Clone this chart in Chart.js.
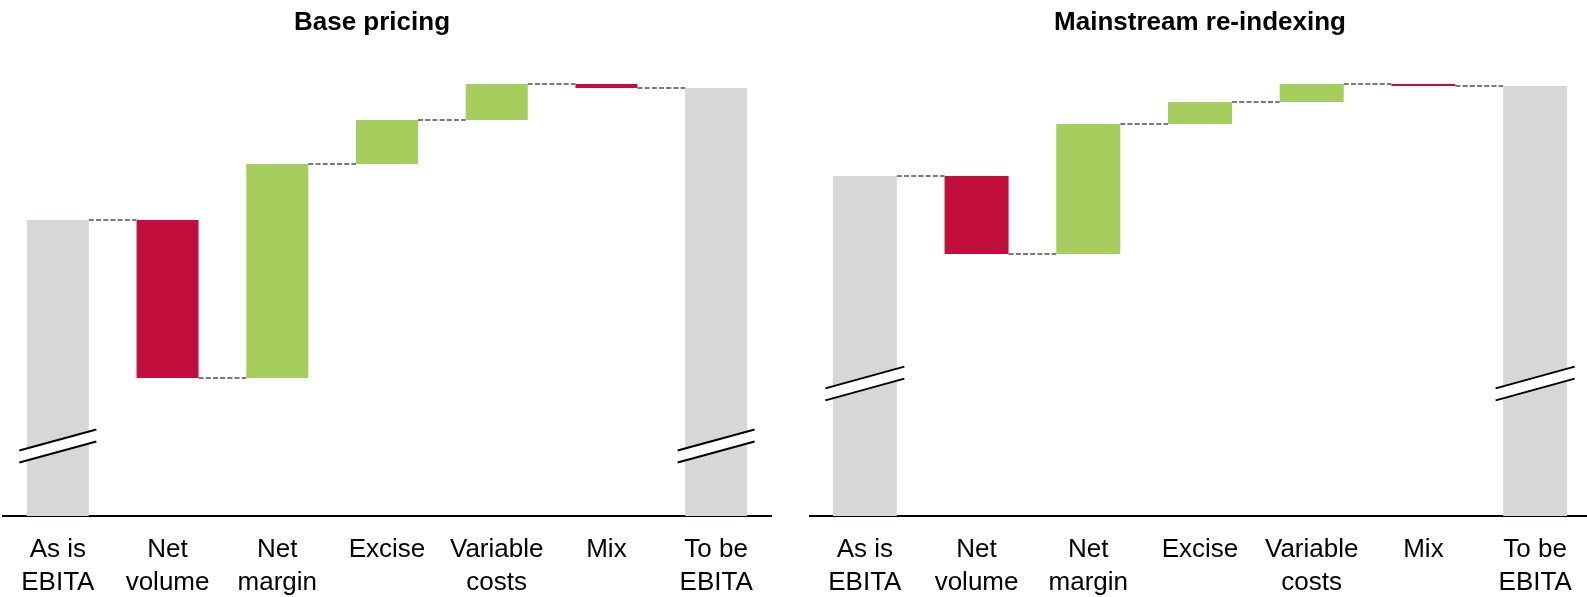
<!DOCTYPE html>
<html>
<head>
<meta charset="utf-8">
<script src="https://cdn.jsdelivr.net/npm/chart.js@4.4.1/dist/chart.umd.min.js"></script>
<style>
  html, body { margin: 0; padding: 0; background: #fff; overflow: hidden; width: 1587px; height: 597px; }
  canvas { position: absolute; top: 0; }
  #basePricing { left: 0; }
  #reindexing { left: 809px; }
</style>
</head>
<body>
<canvas id="basePricing" width="800" height="617"></canvas>
<canvas id="reindexing" width="782" height="617"></canvas>
<script>
// Waterfall categories (multi-line tick labels)
const categories = [
  ['As is', 'EBITA'],
  ['Net', 'volume'],
  ['Net', 'margin'],
  ['Excise'],
  ['Variable', 'costs'],
  ['Mix'],
  ['To be', 'EBITA']
];

// 'total' bars start at zero, 'delta' bars float on the running total
const stepKinds = ['total', 'delta', 'delta', 'delta', 'delta', 'delta', 'total'];

// EBITA bridge values, base pricing scenario
const basePricingSteps = [59.2, -31.6, 42.8, 8.8, 7.2, -0.8, 85.6];
// EBITA bridge values, mainstream re-indexing scenario
const reindexingSteps = [68.0, -15.6, 26.0, 4.4, 3.6, -0.4, 86.0];

// Level (in value units) where the broken-axis mark crosses the total bars
const basePricingBreak = 14.0;
const reindexingBreak = 26.5;

const FONT = "'Liberation Sans', Arial, Helvetica, sans-serif";
const COLORS = { total: '#d6d7d9', up: '#a5ce5e', down: '#c20e3d' };

function waterfall(steps, kinds) {
  let run = 0;
  const ranges = [], colors = [], levels = [];
  steps.forEach((v, i) => {
    if (kinds[i] === 'total') {
      ranges.push([0, v]);
      run = v;
      colors.push(COLORS.total);
    } else {
      ranges.push([run, run + v]);
      run += v;
      colors.push(v >= 0 ? COLORS.up : COLORS.down);
    }
    levels.push(run);
  });
  return { ranges, colors, levels };
}

// Moves the chart title horizontally after layout
const titleShift = {
  id: 'titleShift',
  afterLayout(chart, args, opts) {
    const t = chart.titleBlock;
    if (t && opts.dx) { t.left += opts.dx; t.right += opts.dx; }
  }
};

// Dashed lines joining the running total from one bar to the next
const connectors = {
  id: 'connectors',
  afterDatasetsDraw(chart, args, opts) {
    const meta = chart.getDatasetMeta(0);
    const y = chart.scales.y;
    const ctx = chart.ctx;
    ctx.save();
    ctx.strokeStyle = opts.color;
    ctx.lineWidth = opts.width;
    ctx.setLineDash(opts.dash);
    for (let i = 0; i < meta.data.length - 1; i++) {
      const a = meta.data[i], b = meta.data[i + 1];
      const py = y.getPixelForValue(opts.levels[i]);
      ctx.beginPath();
      ctx.moveTo(a.x + a.width / 2, py);
      ctx.lineTo(b.x - b.width / 2, py);
      ctx.stroke();
    }
    ctx.restore();
  }
};

// Slanted double-line mark showing the value axis is broken on total bars
const axisBreaks = {
  id: 'axisBreaks',
  afterDatasetsDraw(chart, args, opts) {
    const meta = chart.getDatasetMeta(0);
    const y = chart.scales.y;
    const ctx = chart.ctx;
    const yc = y.getPixelForValue(opts.at);
    ctx.save();
    opts.bars.forEach(idx => {
      const bar = meta.data[idx];
      const xc = bar.x;
      const h = bar.width / 2 + opts.overhang;
      const g = opts.gap / 2;
      const k = opts.slope;
      const x0 = xc - h, x1 = xc + h;
      const up0 = yc - g - k * h, up1 = yc - g + k * h;
      const lo0 = yc + g - k * h, lo1 = yc + g + k * h;
      ctx.fillStyle = '#ffffff';
      ctx.beginPath();
      ctx.moveTo(x0, up0); ctx.lineTo(x1, up1); ctx.lineTo(x1, lo1); ctx.lineTo(x0, lo0);
      ctx.closePath();
      ctx.fill();
      ctx.strokeStyle = '#000000';
      ctx.lineWidth = opts.lineWidth;
      ctx.beginPath();
      ctx.moveTo(x0, up0); ctx.lineTo(x1, up1);
      ctx.moveTo(x0, lo0); ctx.lineTo(x1, lo1);
      ctx.stroke();
    });
    ctx.restore();
  }
};

function buildChart(id, steps, breakAt, barShare, titleText, titleDx, padLeft, padRight) {
  const wf = waterfall(steps, stepKinds);
  return new Chart(document.getElementById(id), {
    type: 'bar',
    data: {
      labels: categories,
      datasets: [{
        data: wf.ranges,
        backgroundColor: wf.colors,
        borderWidth: 0,
        barPercentage: 1,
        categoryPercentage: barShare
      }]
    },
    options: {
      responsive: false,
      animation: false,
      devicePixelRatio: 1,
      layout: { padding: { left: padLeft, right: padRight, top: 0, bottom: 0 } },
      plugins: {
        legend: { display: false },
        tooltip: { enabled: false },
        title: {
          display: true,
          text: titleText,
          color: '#000',
          font: { family: FONT, size: 26, weight: 'bold', lineHeight: 1.2 },
          padding: { top: 7, bottom: 27.8 }
        },
        titleShift: { dx: titleDx },
        connectors: { levels: wf.levels, color: '#7a7a7a', width: 2, dash: [5, 2.2] },
        axisBreaks: { at: breakAt, bars: [0, 6], gap: 12, slope: -0.275, overhang: 7.5, lineWidth: 2 }
      },
      scales: {
        x: {
          z: 1,
          grid: { display: false, drawTicks: false },
          border: { display: true, color: '#000', width: 2 },
          ticks: {
            color: '#000',
            padding: 18,
            maxRotation: 0,
            autoSkip: false,
            font: { family: FONT, size: 26, lineHeight: '32.5px' }
          }
        },
        y: { display: false, min: 0, max: 90 }
      }
    },
    plugins: [titleShift, connectors, axisBreaks]
  });
}

buildChart('basePricing', basePricingSteps, basePricingBreak, 0.565, 'Base pricing', -15, 3, 29);
buildChart('reindexing', reindexingSteps, reindexingBreak, 0.573, 'Mainstream re-indexing', 0, 0, 0);
</script>
</body>
</html>
